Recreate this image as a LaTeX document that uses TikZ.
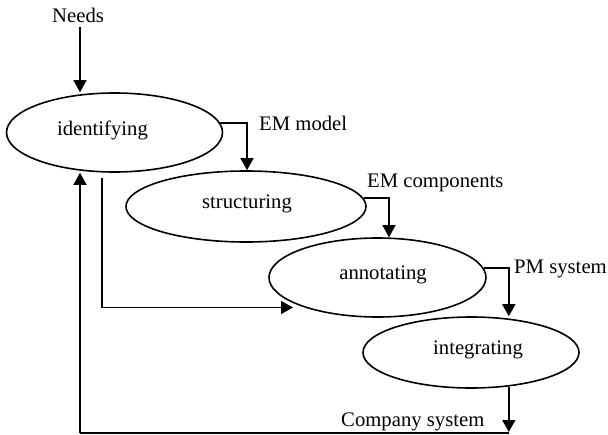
\documentclass[tikz,border=0pt]{standalone}
\usepackage{fontspec}
\setmainfont{Liberation Serif}
\usetikzlibrary{shapes.geometric,arrows.meta}

\begin{document}
\begin{tikzpicture}[x=1pt,y=-1pt,
  every node/.style={font=\fontsize{20.7}{24}\selectfont},
  stage/.style={draw,ellipse,line width=1.6pt,inner sep=0pt},
  stagetext/.style={inner sep=0pt},
  flowtext/.style={inner sep=0pt,anchor=base west},
  flow/.style={line width=1.6pt,-{Triangle[length=12pt,width=13pt]}},
  plain/.style={line width=1.6pt}]

\useasboundingbox (0,0) rectangle (608,434);

% process stages
\node[stage,minimum width=216pt,minimum height=79pt] (idf) at (114.5,132.5) {};
\node[stage,minimum width=240pt,minimum height=71pt] (str) at (246,206.5) {};
\node[stage,minimum width=217pt,minimum height=79pt] (ann) at (377.5,277.5) {};
\node[stage,minimum width=216pt,minimum height=71pt] (int) at (471,352.5) {};

\node[stagetext] (idf-t) at (102.5,130) {identifying};
\node[stagetext] (str-t) at (247,204) {structuring};
\node[stagetext] (ann-t) at (383,275) {annotating};
\node[stagetext] (int-t) at (478,350) {integrating};

% outputs of each stage
\node[flowtext] (needs) at (52,22) {Needs};
\node[flowtext] (emm) at (259,130) {EM model};
\node[flowtext] (emc) at (367,187) {EM components};
\node[flowtext] (pms) at (514,273) {PM system};
\node[flowtext] (cs) at (341,426) {Company system};

% helper points for the loops
\coordinate (n0) at (80,27);
\coordinate (out) at (int.-42);
\coordinate (r1) at (80,433);
\coordinate (r2) at (out |- 0,433);
\coordinate (f0) at (102,178);
\coordinate (f1) at (293,307.5);

% main flow
\draw[flow] (n0) -- (idf.north -| 80,0);
\draw[flow] (idf.5) -| (str.north -| 247,0);
\draw[flow] (str.4) -| (ann.north -| 389,0);
\draw[flow] (ann.5) -| (int.north -| out);
\draw[flow] (out) -- (out |- 0,432);

% feedback back into identifying
\draw[plain] (r2) -- (r1);
\draw[flow] (r1) -- (idf.south -| 80,0);

% bypass from identifying to annotating
\draw[flow] (f0) |- (f1);
\end{tikzpicture}
\end{document}
